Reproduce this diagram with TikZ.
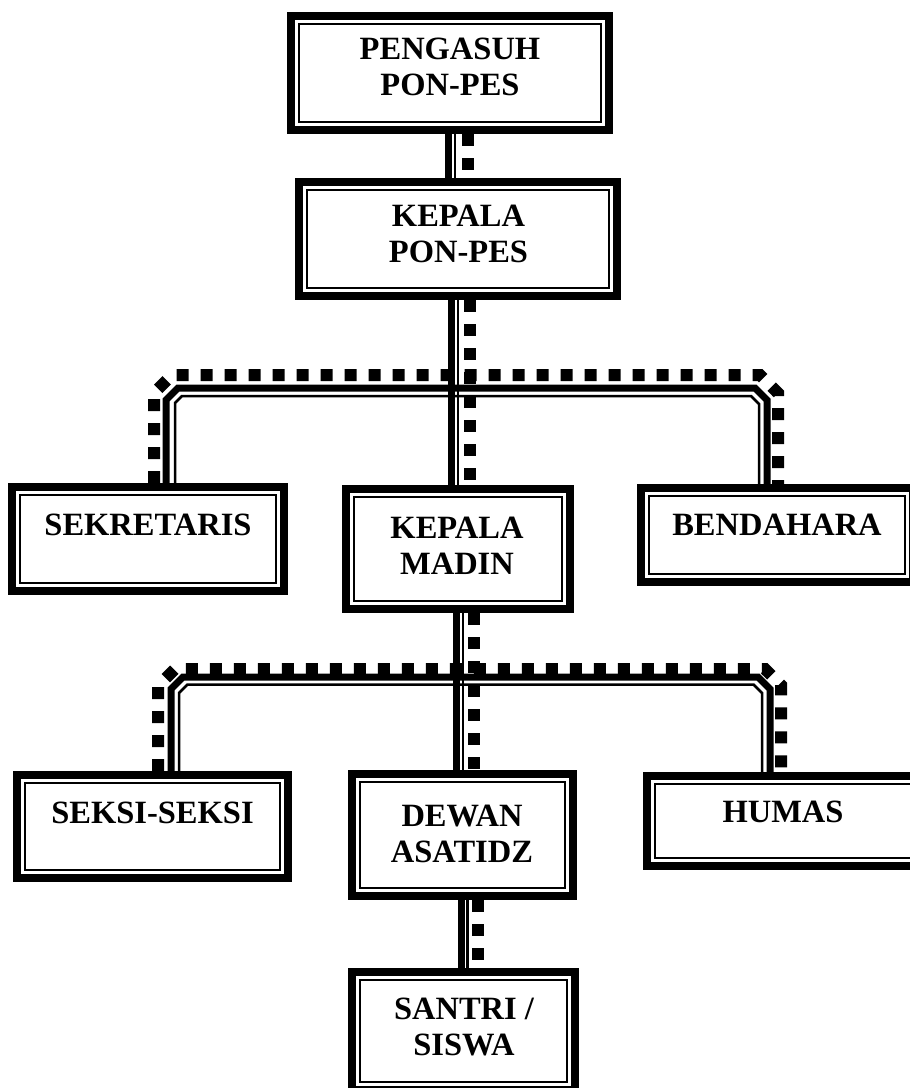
\documentclass[tikz,border=0pt]{standalone}
\usepackage{fontspec}
\setmainfont{Liberation Serif}
\begin{document}
\begin{tikzpicture}[x=1pt,y=-1pt,
  box/.style={draw, line width=8pt, inner sep=0pt,
    path picture={\draw[line width=1.6pt]
      ([shift={(8pt,-8pt)}]path picture bounding box.north west) rectangle
      ([shift={(-8pt,8pt)}]path picture bounding box.south east);}},
  txt/.style={font=\bfseries\fontsize{32.5}{36}\selectfont, align=center, inner sep=0pt, anchor=base},
  thickln/.style={line width=7pt},
  thinln/.style={line width=2.5pt},
  dotln/.style={line width=12pt, dash pattern=on 12pt off 12pt}]
\useasboundingbox (0,0) rectangle (910,1088);
\fill[white] (0,0) rectangle (910,1088);

% boxes
\node[box, minimum width=318pt, minimum height=114pt] (b1) at (450,73) {};
\node[box, minimum width=318pt, minimum height=114pt] (b2) at (458,239) {};
\node[box, minimum width=272pt, minimum height=104pt] (sek) at (148,539) {};
\node[box, minimum width=224pt, minimum height=120pt] (mad) at (458,549) {};
\node[box, minimum width=272pt, minimum height=94pt] (ben) at (777,535) {};
\node[box, minimum width=271pt, minimum height=103pt] (sks) at (152.5,826.5) {};
\node[box, minimum width=221pt, minimum height=122pt] (dew) at (462.5,835) {};
\node[box, minimum width=272pt, minimum height=90pt] (hum) at (783,821) {};
\node[box, minimum width=223pt, minimum height=118pt] (san) at (463.5,1031) {};

% texts (base anchor = baseline of the last line)
\node[txt] (t1) at (450,95) {PENGASUH\\PON-PES};
\node[txt] (t2) at (458.5,262) {KEPALA\\PON-PES};
\node[txt] (t3) at (148,535) {SEKRETARIS};
\node[txt] (t4) at (457,574) {KEPALA\\MADIN};
\node[txt] (t5) at (777,535) {BENDAHARA};
\node[txt] (t6) at (152.5,823) {SEKSI-SEKSI};
\node[txt] (t7) at (462,862) {DEWAN\\ASATIDZ};
\node[txt] (t8) at (783,822) {HUMAS};
\node[txt] (t9) at (464,1055) {SANTRI /\\SISWA};

% trunk 1
\draw[thickln] ([xshift=-2pt]b1.south) -- ([xshift=-10pt]b2.north);
\draw[thinln] ([xshift=5pt]b1.south) -- ([xshift=-3pt]b2.north);
\draw[dotln] ([xshift=17.5pt]b1.south) -- ([xshift=9.5pt]b2.north);

% trunk 2
\draw[thickln] ([xshift=-7pt]b2.south) -- ([xshift=-7pt]mad.north);
\draw[thinln] (b2.south) -- (mad.north);
\draw[dotln] ([xshift=12pt]b2.south) -- ([xshift=12pt]mad.north);

% bus 1
\draw[thickln] ([xshift=18pt]sek.north) -- (166,400) -- (178,388) -- (755,388) -- (767,400) -- ([xshift=-10pt]ben.north);
\draw[thinln] ([xshift=27pt]sek.north) -- (175,403) -- (182,396) -- (751,396) -- (759,404) -- ([xshift=-18pt]ben.north);
\draw[dotln] ([xshift=6pt]sek.north) -- (154,393) -- (172,375) -- (760,375) -- (778,393) -- ([xshift=1pt]ben.north);

% trunk 3
\draw[thickln] ([xshift=-2pt]mad.south) -- ([xshift=-6.5pt]dew.north);
\draw[thinln] ([xshift=5pt]mad.south) -- ([xshift=0.5pt]dew.north);
\draw[dotln] ([xshift=16pt]mad.south) -- ([xshift=11.5pt]dew.north);

% bus 2
\draw[thickln] ([xshift=18.5pt]sks.north) -- (171,689) -- (183,677) -- (758,677) -- (770,689) -- ([xshift=-13pt]hum.north);
\draw[thinln] ([xshift=26.5pt]sks.north) -- (179,693) -- (187.5,684.5) -- (753.5,684.5) -- (762,693) -- ([xshift=-21pt]hum.north);
\draw[dotln] ([xshift=5.5pt]sks.north) -- (158,686) -- (175,669) -- (765,669) -- (781,685) -- ([xshift=-2pt]hum.north);

% trunk 4
\draw[thickln] ([xshift=-1.5pt]dew.south) -- ([xshift=-2.5pt]san.north);
\draw[thinln] ([xshift=5pt]dew.south) -- ([xshift=4pt]san.north);
\draw[dotln] ([xshift=15.5pt]dew.south) -- ([xshift=14.5pt]san.north);
\end{tikzpicture}
\end{document}
